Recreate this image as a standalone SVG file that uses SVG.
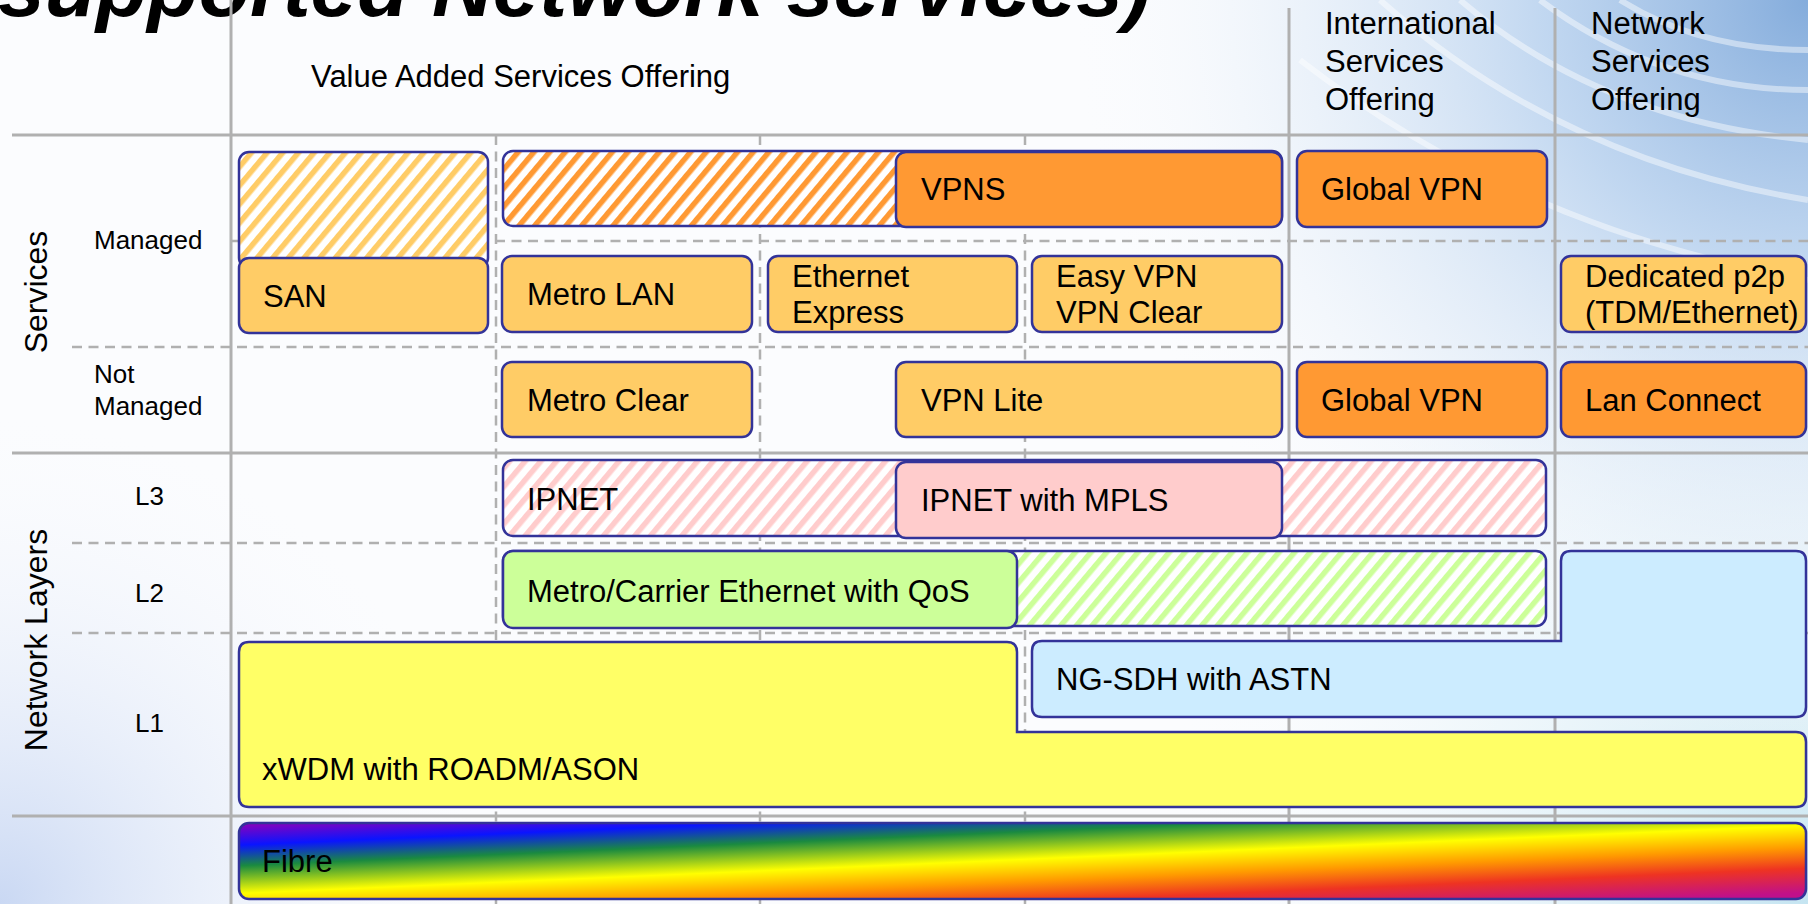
<svg xmlns="http://www.w3.org/2000/svg" width="1808" height="904" viewBox="0 0 1808 904">
<defs>
  <style>
    .t{font-family:"Liberation Sans",Arial,sans-serif;font-size:31px;fill:#000}
    .s{font-family:"Liberation Sans",Arial,sans-serif;font-size:26px;fill:#000}
    .box{stroke:#333399;stroke-width:2.5}
    .solid{stroke:#b0b0b0;stroke-width:3;fill:none}
    .dash{stroke:#b0b0b0;stroke-width:2.5;stroke-dasharray:10 6.5;fill:none}
    .lo{fill:#FFCC66}
    .or{fill:#FF9933}
  </style>
  <pattern id="hLO" patternUnits="userSpaceOnUse" width="12" height="12" patternTransform="rotate(40)">
    <rect width="12" height="12" fill="#fff"/><rect width="5.5" height="12" fill="#FFCC66"/>
  </pattern>
  <pattern id="hOR" patternUnits="userSpaceOnUse" width="12" height="12" patternTransform="rotate(40)">
    <rect width="12" height="12" fill="#fff"/><rect width="5.5" height="12" fill="#FF9933"/>
  </pattern>
  <pattern id="hPK" patternUnits="userSpaceOnUse" width="12" height="12" patternTransform="rotate(40)">
    <rect width="12" height="12" fill="#fff"/><rect width="5.5" height="12" fill="#FFCCCC"/>
  </pattern>
  <pattern id="hGR" patternUnits="userSpaceOnUse" width="12" height="12" patternTransform="rotate(40)">
    <rect width="12" height="12" fill="#fff"/><rect width="5.5" height="12" fill="#CCFF99"/>
  </pattern>
  <linearGradient id="rainbow" gradientUnits="userSpaceOnUse" x1="238" y1="823" x2="244" y2="961">
    <stop offset="0" stop-color="#9000b8"/>
    <stop offset="0.16" stop-color="#0a14ff"/>
    <stop offset="0.31" stop-color="#1a8a40"/>
    <stop offset="0.51" stop-color="#ffff00"/>
    <stop offset="0.67" stop-color="#ff9a00"/>
    <stop offset="0.82" stop-color="#ee3322"/>
    <stop offset="1" stop-color="#c0108a"/>
  </linearGradient>
  <radialGradient id="bgTR" gradientUnits="userSpaceOnUse" cx="1808" cy="0" r="760">
    <stop offset="0" stop-color="#7ea8da" stop-opacity="0.95"/>
    <stop offset="0.35" stop-color="#aecbec" stop-opacity="0.75"/>
    <stop offset="0.7" stop-color="#dbe8f6" stop-opacity="0.4"/>
    <stop offset="1" stop-color="#ffffff" stop-opacity="0"/>
  </radialGradient>
  <radialGradient id="bgBL" gradientUnits="userSpaceOnUse" cx="0" cy="904" r="520">
    <stop offset="0" stop-color="#c4d4f2" stop-opacity="0.9"/>
    <stop offset="1" stop-color="#ffffff" stop-opacity="0"/>
  </radialGradient>
  <radialGradient id="bgBR" gradientUnits="userSpaceOnUse" cx="1808" cy="904" r="700">
    <stop offset="0" stop-color="#bfe2f0" stop-opacity="0.9"/>
    <stop offset="1" stop-color="#ffffff" stop-opacity="0"/>
  </radialGradient>
</defs>

<g id="background">
  <rect width="1808" height="904" fill="#fbfcfe"/>
  <rect width="1808" height="904" fill="url(#bgBL)"/>
  <rect width="1808" height="904" fill="url(#bgBR)"/>
  <rect width="1808" height="904" fill="url(#bgTR)"/>
  <g fill="none" stroke="#ffffff" stroke-opacity="0.45" stroke-width="6">
    <path d="M1380,0 Q1560,160 1808,200"/>
    <path d="M1460,0 Q1600,120 1808,140"/>
    <path d="M1540,0 Q1660,90 1808,90"/>
    <path d="M1620,0 Q1700,50 1808,50"/>
    <path d="M1300,60 Q1520,230 1808,280"/>
  </g>
</g>

<text id="title" x="-2" y="16" style="font-family:'Liberation Sans',Arial,sans-serif;font-size:84px;font-weight:bold;font-style:italic" fill="#000">supported Network services)</text>

<g id="grid">
  <line class="solid" x1="231" y1="0" x2="231" y2="904"/>
  <line class="solid" x1="1289" y1="8" x2="1289" y2="904"/>
  <line class="solid" x1="1555" y1="8" x2="1555" y2="904"/>
  <line class="dash" x1="496" y1="135" x2="496" y2="904"/>
  <line class="dash" x1="760" y1="135" x2="760" y2="904"/>
  <line class="dash" x1="1025" y1="135" x2="1025" y2="904"/>
  <line class="solid" x1="12" y1="135" x2="1808" y2="135"/>
  <line class="dash" x1="231" y1="241" x2="1808" y2="241"/>
  <line class="dash" x1="72" y1="347" x2="1808" y2="347"/>
  <line class="solid" x1="12" y1="453" x2="1808" y2="453"/>
  <line class="dash" x1="72" y1="543" x2="1808" y2="543"/>
  <line class="dash" x1="72" y1="633" x2="1808" y2="633"/>
  <line class="solid" x1="12" y1="816" x2="1808" y2="816"/>
</g>
<g id="connectors"/>

<g id="headers">
  <text class="t" x="311" y="87">Value Added Services Offering</text>
  <text class="t" x="1325" y="34">International</text>
  <text class="t" x="1325" y="72">Services</text>
  <text class="t" x="1325" y="110">Offering</text>
  <text class="t" x="1591" y="34">Network</text>
  <text class="t" x="1591" y="72">Services</text>
  <text class="t" x="1591" y="110">Offering</text>
  <text class="t" transform="translate(47,292) rotate(-90)" text-anchor="middle" style="font-size:32px">Services</text>
  <text class="t" transform="translate(47,640) rotate(-90)" text-anchor="middle" style="font-size:32px">Network Layers</text>
  <text class="s" x="94" y="249">Managed</text>
  <text class="s" x="94" y="383">Not</text>
  <text class="s" x="94" y="415">Managed</text>
  <text class="s" x="135" y="505">L3</text>
  <text class="s" x="135" y="602">L2</text>
  <text class="s" x="135" y="732">L1</text>
</g>

<g id="san-hatch"><rect class="box" x="239" y="152" width="249" height="116" rx="10" fill="url(#hLO)"/></g>
<g id="san"><rect class="box lo" x="239" y="258" width="249" height="75" rx="10"/><text class="t" x="263" y="307">SAN</text></g>

<g id="vpns-hatch"><rect class="box" x="503" y="151" width="779" height="75" rx="10" fill="url(#hOR)"/></g>
<g id="vpns"><rect class="box or" x="896" y="152" width="386" height="75" rx="10"/><text class="t" x="921" y="200">VPNS</text></g>

<g id="metro-lan"><rect class="box lo" x="502" y="256" width="250" height="76" rx="10"/><text class="t" x="527" y="305">Metro LAN</text></g>
<g id="ethernet-express"><rect class="box lo" x="768" y="256" width="249" height="76" rx="10"/><text class="t" x="792" y="287">Ethernet</text><text class="t" x="792" y="323">Express</text></g>
<g id="easy-vpn"><rect class="box lo" x="1032" y="256" width="250" height="76" rx="10"/><text class="t" x="1056" y="287">Easy VPN</text><text class="t" x="1056" y="323">VPN Clear</text></g>
<g id="global-vpn-managed"><rect class="box or" x="1297" y="151" width="250" height="76" rx="10"/><text class="t" x="1321" y="200">Global VPN</text></g>
<g id="dedicated-p2p"><rect class="box lo" x="1561" y="256" width="245" height="76" rx="10"/><text class="t" x="1585" y="287">Dedicated p2p</text><text class="t" x="1585" y="323">(TDM/Ethernet)</text></g>

<g id="metro-clear"><rect class="box lo" x="502" y="362" width="250" height="75" rx="10"/><text class="t" x="527" y="411">Metro Clear</text></g>
<g id="vpn-lite"><rect class="box lo" x="896" y="362" width="386" height="75" rx="10"/><text class="t" x="921" y="411">VPN Lite</text></g>
<g id="global-vpn-not-managed"><rect class="box or" x="1297" y="362" width="250" height="75" rx="10"/><text class="t" x="1321" y="411">Global VPN</text></g>
<g id="lan-connect"><rect class="box or" x="1561" y="362" width="245" height="75" rx="10"/><text class="t" x="1585" y="411">Lan Connect</text></g>

<g id="ipnet"><rect class="box" x="503" y="460" width="1043" height="76" rx="10" fill="url(#hPK)"/><text class="t" x="527" y="510">IPNET</text></g>
<g id="ipnet-mpls"><rect class="box" x="896" y="462" width="386" height="76" rx="10" fill="#FFCCCC"/><text class="t" x="921" y="511">IPNET with MPLS</text></g>

<g id="l2-hatch"><rect class="box" x="503" y="551" width="1043" height="75" rx="10" fill="url(#hGR)"/></g>
<g id="metro-carrier"><rect class="box" x="503" y="551" width="514" height="77" rx="10" fill="#CCFF99"/><text class="t" x="527" y="602">Metro/Carrier Ethernet with QoS</text></g>

<g id="ng-sdh"><path class="box" fill="#CCECFF" d="M1042,641 L1561,641 L1561,561 Q1561,551 1571,551 L1796,551 Q1806,551 1806,561 L1806,707 Q1806,717 1796,717 L1042,717 Q1032,717 1032,707 L1032,651 Q1032,641 1042,641 Z"/><text class="t" x="1056" y="690">NG-SDH with ASTN</text></g>

<g id="xwdm"><path class="box" fill="#FFFF66" d="M249,642 L1007,642 Q1017,642 1017,652 L1017,732 L1796,732 Q1806,732 1806,742 L1806,797 Q1806,807 1796,807 L249,807 Q239,807 239,797 L239,652 Q239,642 249,642 Z"/><text class="t" x="262" y="780">xWDM with ROADM/ASON</text></g>

<g id="fibre"><rect class="box" x="239" y="823" width="1567" height="76" rx="10" fill="url(#rainbow)"/><text class="t" x="262" y="872">Fibre</text></g>
</svg>
